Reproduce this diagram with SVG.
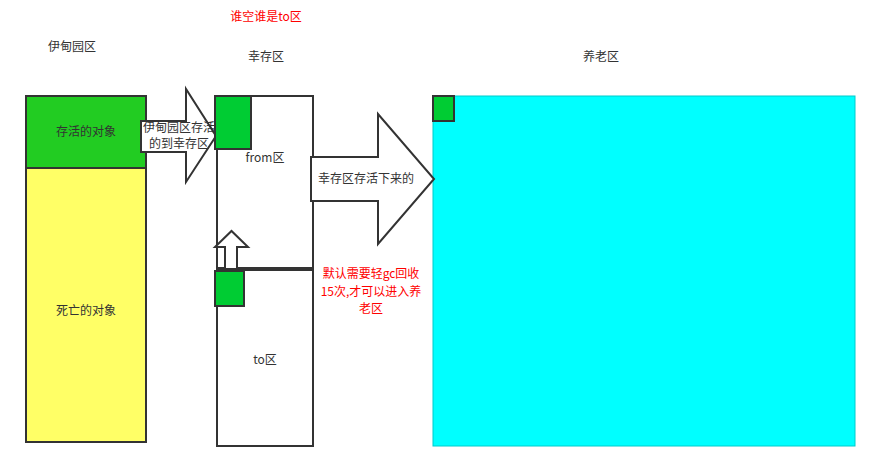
<svg xmlns="http://www.w3.org/2000/svg" width="873" height="451" viewBox="0 0 873 451">
<style>
text{font-family:"Noto Sans CJK SC","Microsoft YaHei",sans-serif;font-size:12px;fill:#333333;text-anchor:middle}
.red{fill:#FF0000}
.box{stroke:#333333;stroke-width:2}
.sq{fill:#00CC33;stroke:#333333;stroke-width:2}
.arr{fill:#FFFFFF;stroke:#333333;stroke-width:2;stroke-linejoin:miter}
</style>
<defs>
<clipPath id="clipA"><rect x="130" y="80" width="84" height="110"/></clipPath>
</defs>
<rect width="873" height="451" fill="#FFFFFF"/>
<text x="72" y="51">伊甸园区</text>
<text x="266" y="61">幸存区</text>
<text x="601" y="61">养老区</text>
<text class="red" x="266" y="21">谁空谁是to区</text>
<g id="eden">
<rect class="box" x="26" y="168" width="120" height="274" fill="#FFFF66"/>
<rect class="box" x="26" y="96" width="120" height="72" fill="#22CC22"/>
<text x="86" y="136">存活的对象</text>
<text x="86" y="315">死亡的对象</text>
</g>
<g id="from">
<rect class="box" x="217" y="96" width="96" height="172" fill="#FFFFFF"/>
<text x="265" y="162">from区</text>
</g>
<g id="to">
<rect class="box" x="217" y="270" width="96" height="176" fill="#FFFFFF"/>
<rect class="sq" x="215" y="271" width="29" height="35"/>
<text x="265" y="364">to区</text>
</g>
<g id="old">
<rect x="433" y="96" width="422" height="350" fill="#00FFFF" stroke="#00CCCC" stroke-width="1"/>
</g>
<g id="connectors">
<g id="arrow-eden-from">
<path class="arr" d="M141,121 L186,121 L186,89 L216,136 L186,182 L186,152 L141,152 Z"/>
<g clip-path="url(#clipA)">
<text x="179" y="132">伊甸园区存活</text>
<text x="179" y="148">的到幸存区</text>
</g>
</g>
<g id="arrow-from-old">
<path class="arr" d="M311,157 L378,157 L378,114 L434,179 L378,244 L378,201 L311,201 Z"/>
<text x="366" y="183">幸存区存活下来的</text>
</g>
<g id="arrow-to-from">
<path class="arr" d="M225,268 L225,247 L215,247 L231.5,231 L248,247 L237,247 L237,268"/>
</g>
</g>
<g id="from-object">
<rect class="sq" x="215" y="96" width="36" height="53"/>
</g>
<g id="old-object">
<rect class="sq" x="433" y="96" width="21" height="25"/>
</g>
<g id="note">
<text class="red" x="371" y="278">默认需要轻gc回收</text>
<text class="red" x="371" y="296">15次,才可以进入养</text>
<text class="red" x="371" y="313">老区</text>
</g>
</svg>
